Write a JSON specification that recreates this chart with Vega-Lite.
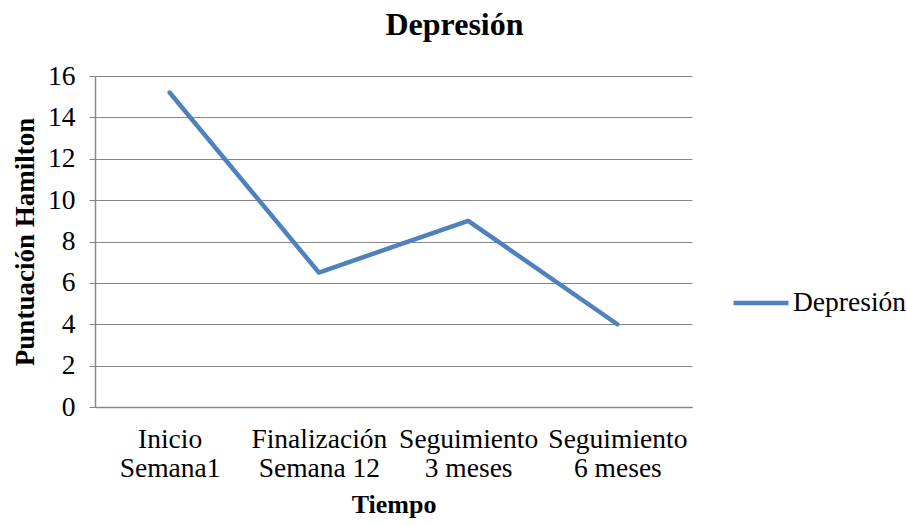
{
  "$schema": "https://vega.github.io/schema/vega-lite/v6.json",
  "width": 597,
  "height": 331,
  "autosize": "none",
  "padding": {"left": 95, "top": 76, "right": 215, "bottom": 118},
  "background": "white",
  "title": {
    "text": "Depresión",
    "font": "Times New Roman, Liberation Serif, serif",
    "fontSize": 32,
    "fontWeight": "bold",
    "color": "black",
    "anchor": "middle",
    "dx": 61,
    "offset": 20
  },
  "data": {
    "values": [
      {"tiempo": "Inicio|Semana1", "serie": "Depresión", "valor": 15.2},
      {"tiempo": "Finalización|Semana 12", "serie": "Depresión", "valor": 6.5},
      {"tiempo": "Seguimiento|3 meses", "serie": "Depresión", "valor": 9.0},
      {"tiempo": "Seguimiento|6 meses", "serie": "Depresión", "valor": 4.0}
    ]
  },
  "mark": {"type": "line", "strokeWidth": 4.5, "strokeCap": "round", "strokeJoin": "round"},
  "encoding": {
    "x": {
      "field": "tiempo",
      "type": "nominal",
      "sort": null,
      "scale": {"type": "point", "padding": 0.5},
      "axis": {
        "title": "Tiempo",
        "labelExpr": "split(datum.label, '|')",
        "labelAngle": 0,
        "labelFont": "Times New Roman, Liberation Serif, serif",
        "labelFontSize": 27.5,
        "labelColor": "black",
        "labelLineHeight": 29,
        "labelPadding": 18,
        "ticks": false,
        "domainColor": "#868686",
        "domainWidth": 1.5,
        "titleFont": "Times New Roman, Liberation Serif, serif",
        "titleFontSize": 26,
        "titleFontWeight": "bold",
        "titleColor": "black",
        "titlePadding": 10
      }
    },
    "y": {
      "field": "valor",
      "type": "quantitative",
      "scale": {"domain": [0, 16], "nice": false},
      "axis": {
        "title": "Puntuación Hamilton",
        "values": [0, 2, 4, 6, 8, 10, 12, 14, 16],
        "labelFont": "Times New Roman, Liberation Serif, serif",
        "labelFontSize": 27.5,
        "labelColor": "black",
        "labelPadding": 14,
        "tickSize": 6,
        "tickColor": "#868686",
        "domainColor": "#868686",
        "domainWidth": 1.5,
        "gridColor": "#868686",
        "gridWidth": 1,
        "titleFont": "Times New Roman, Liberation Serif, serif",
        "titleFontSize": 27,
        "titleFontWeight": "bold",
        "titleColor": "black",
        "titlePadding": 8
      }
    },
    "color": {
      "field": "serie",
      "type": "nominal",
      "scale": {"range": ["#4F81BD"]},
      "legend": {
        "title": null,
        "orient": "none",
        "legendX": 636,
        "legendY": 197,
        "symbolType": "stroke",
        "symbolSize": 3025,
        "symbolStrokeWidth": 4.5,
        "labelFont": "Times New Roman, Liberation Serif, serif",
        "labelFontSize": 27.5,
        "labelColor": "black",
        "labelOffset": 2
      }
    }
  },
  "config": {"view": {"stroke": null}}
}
